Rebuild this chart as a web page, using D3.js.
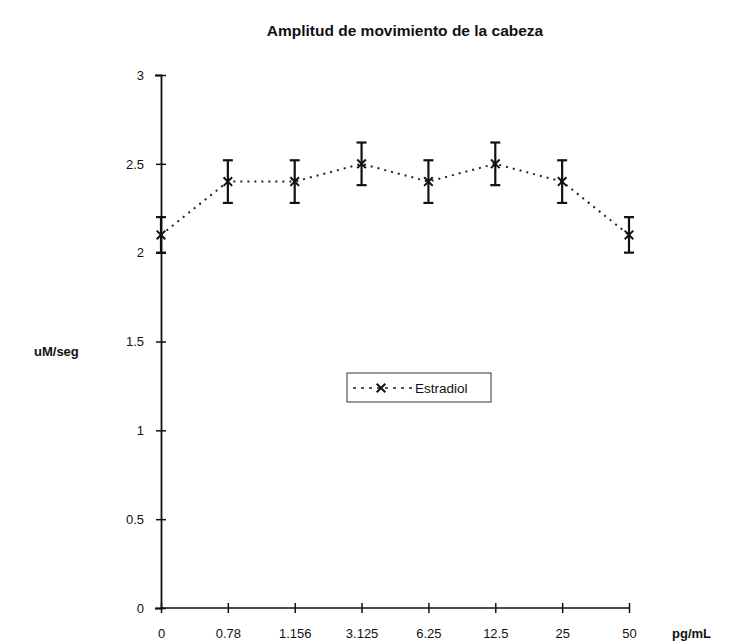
<!DOCTYPE html>
<html><head><meta charset="utf-8">
<script src="https://cdn.jsdelivr.net/npm/d3@7"></script>
<style>body{margin:0;background:#fff}svg{display:block}text{font-family:"Liberation Sans",Arial,sans-serif;fill:#111}</style>
</head><body><svg id="c" width="734" height="644"></svg>
<script>
const categories = ["0","0.78","1.156","3.125","6.25","12.5","25","50"];
const values = [2.1,2.4,2.4,2.5,2.4,2.5,2.4,2.1];
const errors = [0.1,0.12,0.12,0.12,0.12,0.12,0.12,0.1];
const yTicks = [0,0.5,1,1.5,2,2.5,3];
const seriesName = "Estradiol";

const svg = d3.select("#c");
const x = d3.scalePoint().domain(categories).range([161,629]);
const y = d3.scaleLinear().domain([0,3]).range([608,75]);

svg.append("text").attr("x",405).attr("y",36).attr("text-anchor","middle")
  .attr("font-size",15.5).attr("font-weight","bold").text("Amplitud de movimiento de la cabeza");

// y axis
const ya = svg.append("g").attr("transform","translate(161,0)")
  .call(d3.axisLeft(y).tickValues(yTicks).tickFormat(d=>d).tickSize(6).tickPadding(11));
ya.select(".domain").attr("stroke","#111").attr("stroke-width",1.8);
ya.selectAll(".tick line").attr("x1",-5).attr("x2",5).attr("stroke","#111").attr("stroke-width",1.5);
ya.selectAll(".tick text").attr("font-size",13).attr("font-family","Liberation Sans, Arial, sans-serif").attr("fill","#111");

// x axis
const xa = svg.append("g").attr("transform","translate(0,608)")
  .call(d3.axisBottom(x).tickSize(6).tickPadding(15));
xa.select(".domain").attr("stroke","#111").attr("stroke-width",1.5).attr("d","M161,0H629");
xa.selectAll(".tick line").attr("y1",-5).attr("y2",5).attr("stroke","#111").attr("stroke-width",1.5);
xa.selectAll(".tick text").attr("font-size",13).attr("font-family","Liberation Sans, Arial, sans-serif").attr("fill","#111");

svg.append("text").attr("x",34).attr("y",356).attr("font-size",13).attr("font-weight","bold").text("uM/seg");
svg.append("text").attr("x",672).attr("y",638).attr("font-size",13).attr("font-weight","bold").text("pg/mL");

const data = categories.map((c,i)=>({c,v:values[i],e:errors[i]}));

// dotted line
svg.append("path").datum(data)
  .attr("d",d3.line().x(d=>x(d.c)).y(d=>y(d.v)))
  .attr("fill","none").attr("stroke","#222").attr("stroke-width",2)
  .attr("stroke-dasharray","2,5");

// error bars
const eb = svg.append("g").selectAll("g").data(data).join("g");
eb.append("line").attr("x1",d=>x(d.c)).attr("x2",d=>x(d.c))
  .attr("y1",d=>y(d.v+d.e)).attr("y2",d=>y(d.v-d.e)).attr("stroke","#111").attr("stroke-width",2.2);
eb.append("line").attr("x1",d=>x(d.c)-5).attr("x2",d=>x(d.c)+5)
  .attr("y1",d=>y(d.v+d.e)).attr("y2",d=>y(d.v+d.e)).attr("stroke","#111").attr("stroke-width",2.2);
eb.append("line").attr("x1",d=>x(d.c)-5).attr("x2",d=>x(d.c)+5)
  .attr("y1",d=>y(d.v-d.e)).attr("y2",d=>y(d.v-d.e)).attr("stroke","#111").attr("stroke-width",2.2);

// markers
const mk = d3.symbol().type(d3.symbolX).size(50);
svg.append("g").selectAll("path").data(data).join("path")
  .attr("transform",d=>`translate(${x(d.c)},${y(d.v)})`)
  .attr("d",mk).attr("fill","#111").attr("stroke","#111").attr("stroke-width",2);

// legend
const lg = svg.append("g");
lg.append("rect").attr("x",347).attr("y",373).attr("width",144).attr("height",29)
  .attr("fill","#fff").attr("stroke","#333").attr("stroke-width",1);
lg.append("line").attr("x1",353).attr("x2",412).attr("y1",388).attr("y2",388)
  .attr("stroke","#222").attr("stroke-width",1.6).attr("stroke-dasharray","3,5");
lg.append("path").attr("transform","translate(381,388)").attr("d",mk)
  .attr("fill","#111").attr("stroke","#111").attr("stroke-width",2);
lg.append("text").attr("x",415).attr("y",393).attr("font-size",13.5).text(seriesName);
</script></body></html>
